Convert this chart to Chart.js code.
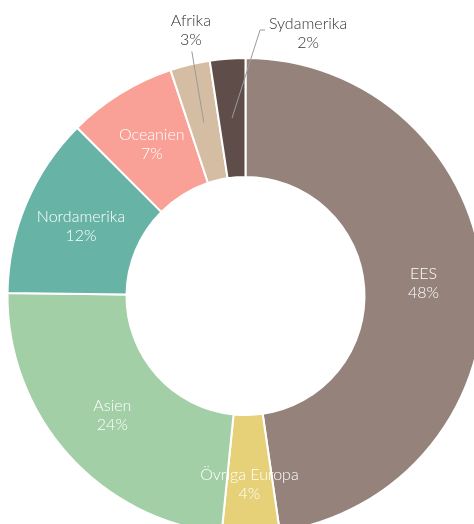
<!DOCTYPE html>
<html>
<head>
<meta charset="utf-8">
<script src="https://cdn.jsdelivr.net/npm/chart.js@4/dist/chart.umd.min.js"></script>
<style>
  html, body { margin: 0; padding: 0; background: #fff; overflow: hidden; }
  body { width: 474px; height: 524px; position: relative; }
  #pie { position: absolute; left: 0; top: 0; }
</style>
</head>
<body>
<canvas id="pie" width="491" height="535"></canvas>
<script>
// Share of total per region (%), clockwise from 12 o'clock
const regions = ['EES', 'Övriga Europa', 'Asien', 'Nordamerika', 'Oceanien', 'Afrika', 'Sydamerika']
const shares = [47.7, 3.9, 23.6, 12.3, 7.4, 2.7, 2.4]
const regionColors = ['#95827b', '#e6d078', '#a2cfa6', '#67b4a7', '#faa197', '#d5bda3', '#5e4d49']

// Draws name + percent inside each slice, or outside with a leader line
const sliceLabels = {
  id: 'sliceLabels',
  afterDatasetsDraw(chart, args, opts) {
    const ctx = chart.ctx
    const meta = chart.getDatasetMeta(0)
    const values = chart.data.datasets[0].data
    ctx.save()
    ctx.font = opts.font
    ctx.textAlign = 'center'
    ctx.textBaseline = 'middle'
    meta.data.forEach((arc, i) => {
      const { x, y, startAngle, endAngle, innerRadius, outerRadius } =
        arc.getProps(['x', 'y', 'startAngle', 'endAngle', 'innerRadius', 'outerRadius'], true)
      const mid = (startAngle + endAngle) / 2
      const r = (innerRadius + outerRadius) / 2
      const px = x + Math.cos(mid) * r
      const py = y + Math.sin(mid) * r
      const name = chart.data.labels[i]
      const pct = Math.round(values[i]) + '%'
      const callout = opts.callouts[name]

      if (!callout) {
        const nudge = opts.nudge[name] || 0
        ctx.fillStyle = '#ffffff'
        ctx.fillText(name, px, py + nudge - 9.5)
        ctx.fillText(pct, px, py + nudge + 9.5)
        return
      }

      const ex = px + callout.dx
      const ey = py + callout.dy
      ctx.strokeStyle = '#9a9a9a'
      ctx.lineWidth = 1
      ctx.beginPath()
      ctx.moveTo(px, py)
      ctx.lineTo(ex, ey)
      if (callout.hook) ctx.lineTo(ex + callout.hook, ey)
      ctx.stroke()

      const tx = ex + (callout.hook || 0) + callout.textDx
      const ty = ey + callout.textDy
      ctx.fillStyle = '#333333'
      ctx.fillText(name, tx, ty - 9.5)
      ctx.fillText(pct, tx, ty + 9.5)
    })
    ctx.restore()
  }
}

new Chart(document.querySelector('#pie'), {
  type: 'doughnut',
  data: {
    labels: regions,
    datasets: [{
      data: shares,
      backgroundColor: regionColors,
      borderColor: '#ffffff',
      borderWidth: 2,
      hoverOffset: 0
    }]
  },
  options: {
    responsive: false,
    devicePixelRatio: 1,
    animation: false,
    cutout: '50%',
    layout: { padding: { top: 57 } },
    plugins: {
      legend: { display: false },
      tooltip: { enabled: false },
      sliceLabels: {
        font: '300 16px Lato',
        nudge: { 'Övriga Europa': 10 },
        callouts: {
          'Afrika': { dx: -12, dy: -71, textDx: -1, textDy: -21 },
          'Sydamerika': { dx: 28, dy: -88, hook: 5, textDx: 43, textDy: 3 }
        }
      }
    }
  },
  plugins: [sliceLabels]
})
</script>
</body>
</html>
